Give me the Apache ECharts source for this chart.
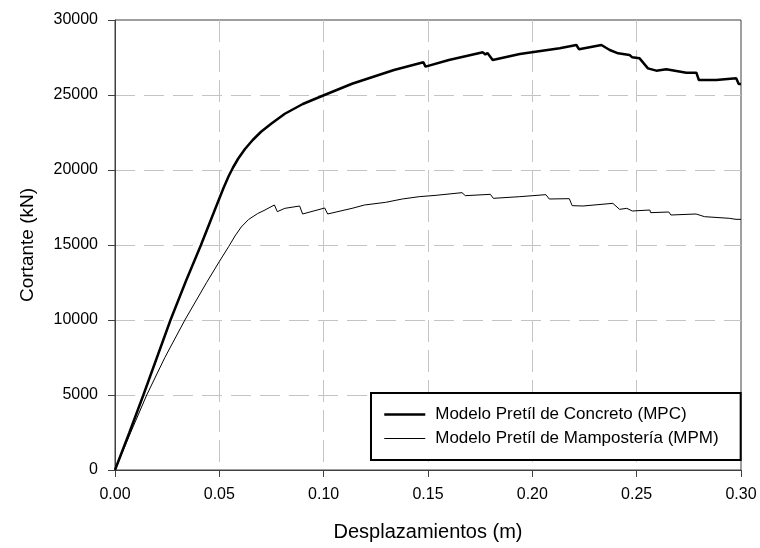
<!DOCTYPE html>
<html>
<head>
<meta charset="utf-8">
<script src="https://cdn.jsdelivr.net/npm/echarts@6/dist/echarts.min.js"></script>
<style>
html,body{margin:0;padding:0;background:#fff;}
#chart{width:760px;height:548px;}
</style>
</head>
<body>
<div id="chart"></div>
<script>
// Modelo Pretíl de Concreto (MPC)
const mpcX = [0, 0.0069, 0.0136, 0.0266, 0.0340, 0.0412, 0.0480, 0.0520, 0.0545, 0.0565, 0.0590, 0.0623, 0.0660, 0.0700, 0.0750, 0.0814, 0.0900, 0.0995, 0.1136, 0.1337, 0.1478, 0.1488, 0.1600, 0.1763, 0.1775, 0.1785, 0.1810, 0.1940, 0.2131, 0.2211, 0.2224, 0.2331, 0.2371, 0.2411, 0.2466, 0.2479, 0.2514, 0.2554, 0.2594, 0.2642, 0.2738, 0.2786, 0.2798, 0.2881, 0.2977, 0.2989, 0.3000];
const mpcY = [0, 2500, 5000, 10000, 12600, 15000, 17400, 18800, 19600, 20150, 20750, 21400, 22000, 22550, 23100, 23750, 24400, 24950, 25750, 26667, 27178, 26889, 27333, 27844, 27700, 27800, 27333, 27733, 28111, 28333, 28044, 28333, 28000, 27778, 27667, 27511, 27444, 26778, 26622, 26711, 26489, 26489, 26000, 26000, 26111, 25733, 25733];

// Modelo Pretíl de Mampostería (MPM)
const mpmX = [0, 0.0075, 0.0152, 0.0239, 0.0335, 0.0439, 0.0500, 0.0545, 0.0575, 0.0605, 0.0640, 0.0684, 0.0714, 0.0764, 0.0778, 0.0814, 0.0885, 0.0899, 0.1005, 0.1019, 0.1136, 0.1196, 0.1297, 0.1377, 0.1458, 0.1538, 0.1663, 0.1679, 0.1799, 0.1813, 0.1940, 0.2065, 0.2081, 0.2177, 0.2191, 0.2242, 0.2386, 0.2418, 0.2453, 0.2479, 0.2563, 0.2567, 0.2654, 0.2664, 0.2785, 0.2825, 0.2945, 0.2976, 0.3000];
const mpmY = [0, 2500, 5000, 7500, 10000, 12500, 13900, 14900, 15600, 16200, 16700, 17100, 17300, 17667, 17222, 17444, 17600, 17067, 17467, 17067, 17444, 17667, 17844, 18067, 18222, 18311, 18489, 18289, 18378, 18111, 18222, 18356, 18067, 18089, 17622, 17600, 17778, 17378, 17444, 17267, 17333, 17156, 17200, 17000, 17067, 16889, 16778, 16711, 16711];

const seriesNames = ['Modelo Pretíl de Concreto (MPC)', 'Modelo Pretíl de Mampostería (MPM)'];
const lineWidths = [2.5, 1];
const xTicks = [0, 0.05, 0.10, 0.15, 0.20, 0.25, 0.30];
const yTicks = [0, 5000, 10000, 15000, 20000, 25000, 30000];
const xTitle = 'Desplazamientos (m)';
const yTitle = 'Cortante (kN)';

function pairs(xs, ys) { return xs.map((x, i) => [x, ys[i]]); }

const FONT = '"Liberation Sans", Arial, sans-serif';
const chart = echarts.init(document.getElementById('chart'), null, {renderer: 'canvas'});
chart.setOption({
  animation: false,
  backgroundColor: '#ffffff',
  grid: {
    left: 115, right: 19, top: 20, bottom: 78,
    show: true, borderColor: '#404040', borderWidth: 1, backgroundColor: 'transparent'
  },
  legend: {
    orient: 'vertical',
    left: 371, top: 393,
    data: seriesNames.map((n, i) => ({name: n, lineStyle: {width: lineWidths[i], color: '#000'}})),
    itemWidth: 41, itemHeight: 14, itemGap: 7,
    padding: [13, 22, 13, 12],
    backgroundColor: '#ffffff',
    borderColor: '#000000', borderWidth: 2, borderRadius: 0,
    itemStyle: {opacity: 0},
    textStyle: {fontFamily: FONT, fontSize: 17, color: '#000', padding: [0, 0, 0, 5]}
  },
  xAxis: {
    type: 'value', min: xTicks[0], max: xTicks[xTicks.length - 1], interval: 0.05,
    name: xTitle, nameLocation: 'middle', nameGap: 52,
    nameTextStyle: {fontFamily: FONT, fontSize: 20, color: '#000'},
    axisLine: {show: true, onZero: false, lineStyle: {color: '#404040', width: 1}},
    axisTick: {show: true, inside: false, length: 7, lineStyle: {color: '#404040'}},
    axisLabel: {margin: 17, fontFamily: FONT, fontSize: 16, color: '#000', formatter: v => v.toFixed(2)},
    splitLine: {show: true, showMinLine: false, showMaxLine: false, lineStyle: {color: '#c4c4c4', width: 1, type: [22, 8]}}
  },
  yAxis: {
    type: 'value', min: yTicks[0], max: yTicks[yTicks.length - 1], interval: 5000,
    name: yTitle, nameLocation: 'middle', nameGap: 78, nameRotate: 90,
    nameTextStyle: {fontFamily: FONT, fontSize: 19, color: '#000'},
    axisLine: {show: true, onZero: false, lineStyle: {color: '#404040', width: 1}},
    axisTick: {show: true, inside: false, length: 7, lineStyle: {color: '#404040'}},
    axisLabel: {margin: 17, fontFamily: FONT, fontSize: 16, color: '#000', formatter: v => String(v)},
    splitLine: {show: true, showMinLine: false, showMaxLine: false, lineStyle: {color: '#c4c4c4', width: 1, type: [20, 9]}}
  },
  series: [
    {
      name: seriesNames[0], type: 'line', symbol: 'none', smooth: false,
      data: pairs(mpcX, mpcY),
      lineStyle: {color: '#000', width: lineWidths[0]}, itemStyle: {color: '#000'}, z: 3
    },
    {
      name: seriesNames[1], type: 'line', symbol: 'none', smooth: false,
      data: pairs(mpmX, mpmY),
      lineStyle: {color: '#000', width: lineWidths[1]}, itemStyle: {color: '#000'}, z: 3
    }
  ]
});
</script>
</body>
</html>
